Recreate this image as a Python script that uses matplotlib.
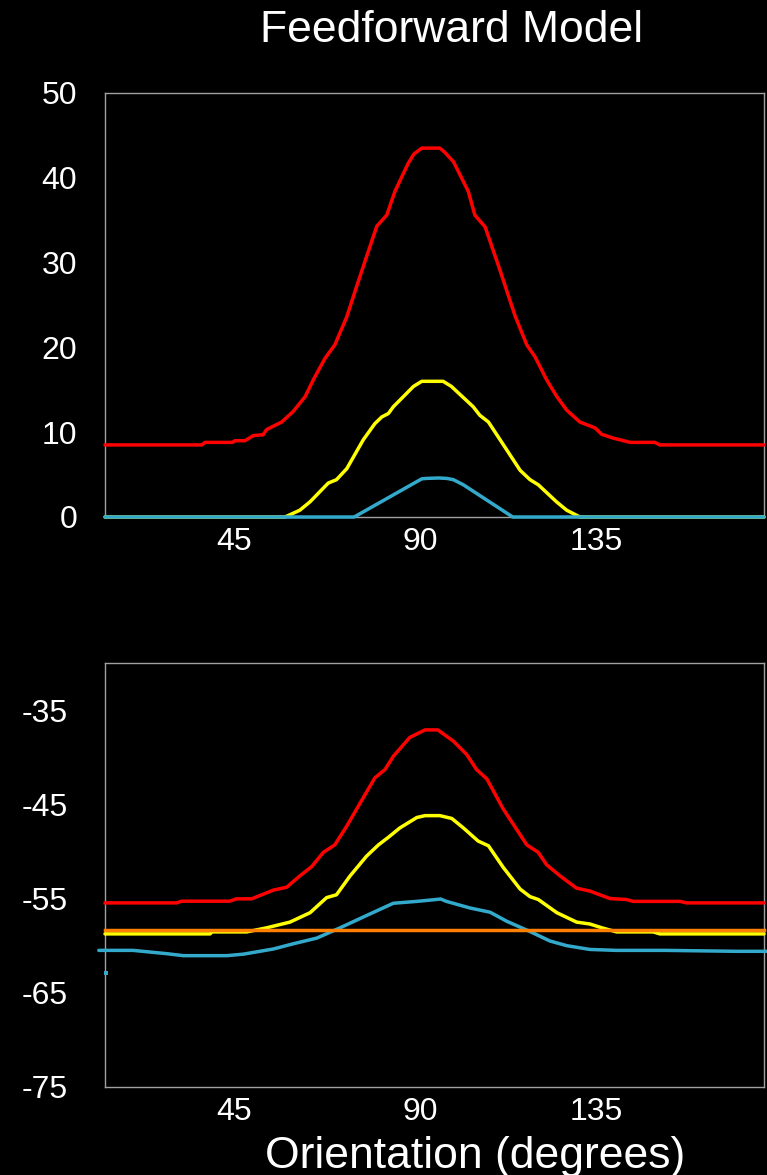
import matplotlib
matplotlib.use("Agg")
import matplotlib.pyplot as plt
import matplotlib.transforms as mtransforms

plt.rcParams['font.family'] = ['Liberation Sans', 'DejaVu Sans']
plt.rcParams['axes.unicode_minus'] = False

# ---------------- data ----------------
title = "Feedforward Model"
xlabel = "Orientation (degrees)"
xticks = [45, 90, 135]

# top panel (firing rate)
red_top_x = [10, 33.5, 34.3, 41, 41.5, 44, 46, 48.4, 49.2, 52.9, 55.6, 58.6, 60.6, 63.4, 65.8, 68.7,
             71.1, 73.5, 76, 78.4, 80.4, 83.6, 85, 86.9, 91.3, 92.5, 94.6, 98.2, 99.8, 102.3, 105.9,
             109.5, 112.4, 114.4, 117.2, 119.7, 122.1, 125.3, 129, 130.6, 133.4, 137.5, 143.5, 144.7, 170]
red_top_y = [8.5, 8.5, 8.8, 8.8, 9.0, 9.0, 9.6, 9.7, 10.3, 11.2, 12.4, 14.2, 16.2, 18.7, 20.3, 23.6,
             27.2, 30.7, 34.3, 35.6, 38.4, 41.7, 42.8, 43.5, 43.5, 43.0, 41.9, 38.4, 35.6, 34.2, 29.1,
             23.8, 20.3, 18.9, 16.2, 14.2, 12.6, 11.2, 10.5, 9.75, 9.3, 8.8, 8.8, 8.5, 8.5]

yel_top_x = [10, 53.7, 57.3, 59.8, 62.2, 64.2, 66.2, 68.7, 72.7, 75.5, 77.2, 78.8, 80.0, 84.9, 86.9,
             92.1, 94.1, 99.4, 101.0, 103.1, 110.8, 113.2, 115.2, 119.6, 122.1, 125.3, 170]
yel_top_y = [0, 0, 0.8, 1.8, 3.0, 4.0, 4.4, 5.7, 9.1, 11.0, 11.8, 12.2, 13.0, 15.4, 16.0,
             16.0, 15.4, 13.0, 12.0, 11.2, 5.5, 4.4, 3.8, 1.8, 0.8, 0, 0]

cyan_top_x = [10, 70.5, 86.9, 88, 91, 93, 94.6, 97, 109.0, 170]
cyan_top_y = [0, 0, 4.5, 4.55, 4.6, 4.55, 4.4, 3.8, 0, 0]

# bottom panel (membrane potential)
red_bot_x = [10, 27.4, 28.6, 40.3, 41.9, 45.6, 50.9, 54.1, 57.3, 60.2, 63.0, 65.8, 68.7, 72.7, 75.5,
             78.0, 80.0, 84.0, 87.7, 90.8, 94.6, 97.8, 100.2, 102.7, 106.7, 112.4, 115.2, 117.2, 120.5,
             124.5, 127.7, 132.6, 136.6, 138.2, 149.6, 151.2, 170]
red_bot_y = [-55.46, -55.46, -55.28, -55.28, -55.03, -55.03, -54.1, -53.8, -52.6, -51.6, -50.1, -49.3,
             -47.3, -44.3, -42.2, -41.3, -39.9, -37.9, -37.1, -37.1, -38.3, -39.7, -41.3, -42.3, -45.5,
             -49.3, -50.1, -51.4, -52.6, -53.9, -54.2, -55.0, -55.1, -55.3, -55.3, -55.46, -55.46]

yel_bot_x = [10, 35.5, 36.0, 44.4, 49.3, 54.9, 59.8, 63.8, 66.2, 69.5, 73.5, 76.4, 78.8, 81.6, 85.7,
             87.7, 91.3, 94.2, 97.0, 100.6, 103.1, 106.7, 110.8, 113.2, 115.2, 119.7, 124.5, 127.7,
             130.6, 134.2, 143.1, 144.7, 170]
yel_bot_y = [-58.75, -58.75, -58.54, -58.54, -58.1, -57.5, -56.5, -54.9, -54.6, -52.6, -50.5, -49.3,
             -48.5, -47.5, -46.4, -46.2, -46.2, -46.5, -47.5, -48.9, -49.4, -51.7, -54.0, -54.8, -55.1,
             -56.5, -57.5, -57.7, -58.1, -58.54, -58.54, -58.75, -58.75]

orange_bot_x = [10, 170]
orange_bot_y = [-58.3, -58.3]

cyan_bot_x = [8.5, 16.8, 25.0, 29.0, 39.6, 43.6, 50.9, 55.7, 61.4, 67.1, 73.5, 80.0, 85.7, 88.1, 91.5,
              92.9, 98.6, 103.5, 107.5, 113.2, 118.0, 122.1, 127.7, 134.2, 145.9, 163.4, 170.6]
cyan_bot_y = [-60.5, -60.5, -60.85, -61.06, -61.06, -60.9, -60.35, -59.8, -59.2, -58.1, -56.8, -55.5,
              -55.3, -55.2, -55.05, -55.3, -56.0, -56.45, -57.4, -58.5, -59.5, -60.0, -60.4, -60.5,
              -60.5, -60.6, -60.6]

cyan_dot_x = [10.2]
cyan_dot_y = [-62.9]

# ---------------- style ----------------
RED = '#FF0000'
YEL = '#FFFF00'
CYAN = '#33AACC'
ORANGE = '#FF8000'
SPINE = '#A0A0A0'
LW = 2.5

W, H = 767, 1175
fig = plt.figure(figsize=(W / 100, H / 100), dpi=100, facecolor='black')

ax1 = fig.add_axes([105 / W, 1 - 517 / H, 659 / W, 424 / H], facecolor='black')
ax2 = fig.add_axes([105 / W, 1 - 1087 / H, 659 / W, 424 / H], facecolor='black')

kw = dict(lw=LW, solid_joinstyle='round', solid_capstyle='round', clip_on=False)
ax1.plot(red_top_x, red_top_y, color=RED, **kw)
ax1.plot(yel_top_x, yel_top_y, color=YEL, **kw)
ax1.plot(cyan_top_x, cyan_top_y, color=CYAN, **kw)

ax2.plot(red_bot_x, red_bot_y, color=RED, **kw)
ax2.plot(yel_bot_x, yel_bot_y, color=YEL, **kw)
ax2.plot(cyan_bot_x, cyan_bot_y, color=CYAN, **kw)
ax2.plot(orange_bot_x, orange_bot_y, color=ORANGE, lw=LW, clip_on=False)
ax2.plot(cyan_dot_x, cyan_dot_y, 's', color=CYAN, ms=3.2, mew=0, clip_on=False)

ax1.set_xlim(10, 170)
ax1.set_ylim(0, 50)
ax1.set_yticks([0, 10, 20, 30, 40, 50])
ax2.set_xlim(10, 170)
ax2.set_ylim(-75, -30)
ax2.set_yticks([-75, -65, -55, -45, -35])

for ax, ypad, ymin_tick in ((ax1, 20, 40), (ax2, 27, -35)):
    ax.set_xticks(xticks)
    ax.set_xticks([45], minor=True)
    ax.set_yticks([ymin_tick], minor=True)
    for s in ax.spines.values():
        s.set_color(SPINE)
        s.set_linewidth(1.0)
        s.set_zorder(0.5)
    ax.tick_params(which='major', length=0, labelsize=23, colors='white')
    ax.tick_params(axis='x', which='major', pad=7)
    ax.tick_params(axis='y', which='major', pad=ypad)
    ax.tick_params(which='minor', direction='in', length=7, width=1, color=SPINE,
                   left=True, right=True, bottom=True, top=False)
    offset = mtransforms.ScaledTranslation(3 / 100, 0, fig.dpi_scale_trans)
    for lab in ax.get_xticklabels():
        lab.set_horizontalalignment('right')
        lab.set_transform(lab.get_transform() + offset)
    for lab in ax.get_yticklabels():
        lab.set_color('white')

fig.text(452 / W, 1 - 42 / H, title, ha='center', va='baseline', color='white', fontsize=32)
fig.text(475 / W, 1 - 1168 / H, xlabel, ha='center', va='baseline', color='white', fontsize=32)

fig.savefig('out.png', dpi=100, facecolor='black')
